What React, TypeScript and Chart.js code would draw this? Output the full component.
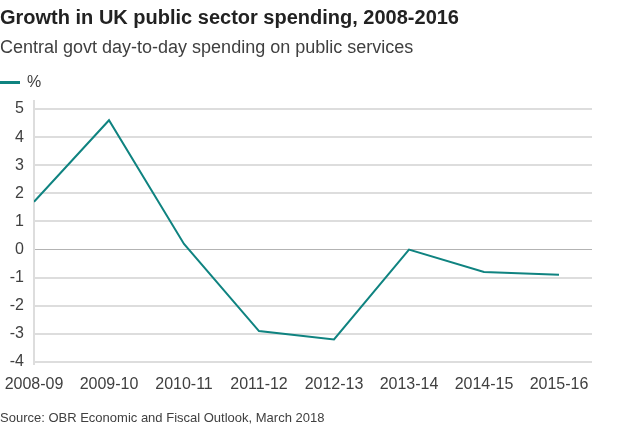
import React, { useEffect, useRef } from "react";
import { Chart, registerables } from "chart.js";

Chart.register(...registerables);

const categories = ["2008-09", "2009-10", "2010-11", "2011-12", "2012-13", "2013-14", "2014-15", "2015-16"];
const growth = [1.7, 4.6, 0.2, -2.9, -3.2, 0.0, -0.8, -0.9];
const yTicks = [5, 4, 3, 2, 1, 0, -1, -2, -3, -4];

const TEAL = "#0f8380";
const FONT = "'Liberation Sans', Arial, Helvetica, sans-serif";

const axisLinePlugin = {
  id: "axisLine",
  beforeDatasetsDraw(chart: any) {
    const { ctx, chartArea } = chart;
    ctx.save();
    ctx.strokeStyle = "#dddddd";
    ctx.lineWidth = 2;
    ctx.beginPath();
    ctx.moveTo(chartArea.left, chartArea.top - 9);
    ctx.lineTo(chartArea.left, chartArea.bottom + 3);
    ctx.stroke();
    ctx.restore();
  },
};

export default function App() {
  const ref = useRef<HTMLCanvasElement>(null);

  useEffect(() => {
    if (!ref.current) return;
    const chart = new Chart(ref.current, {
      type: "line",
      data: {
        datasets: [
          {
            label: "%",
            data: growth.map((v, i) => ({ x: i, y: v })),
            borderColor: TEAL,
            borderWidth: 2,
            pointRadius: 0,
            tension: 0,
            fill: false,
          },
        ],
      },
      plugins: [axisLinePlugin],
      options: {
        responsive: false,
        animation: false,
        layout: { padding: { top: 109, right: 32, bottom: 0, left: 0 } },
        plugins: { legend: { display: false }, tooltip: { enabled: false } },
        scales: {
          x: {
            type: "linear",
            min: 0,
            max: 7.44,
            grid: { display: false },
            border: { display: false },
            afterBuildTicks: (scale: any) => {
              scale.ticks = categories.map((_, i) => ({ value: i }));
            },
            afterFit: (scale: any) => {
              scale.height = 67;
              scale.paddingLeft = 0;
              scale.paddingRight = 0;
            },
            ticks: {
              autoSkip: false,
              maxRotation: 0,
              padding: 5,
              color: "#404040",
              font: { family: FONT, size: 16 },
              callback: (v: any) => categories[v as number] ?? "",
            },
          },
          y: {
            min: Math.min(...yTicks),
            max: Math.max(...yTicks),
            afterBuildTicks: (scale: any) => {
              scale.ticks = yTicks.map((v) => ({ value: v }));
            },
            afterFit: (scale: any) => {
              scale.width = 34;
              scale.paddingTop = 0;
              scale.paddingBottom = 0;
            },
            border: { display: false },
            grid: {
              drawTicks: false,
              color: (ctx: any) => (ctx.tick && ctx.tick.value === 0 ? "#b3b3b3" : "#dddddd"),
              lineWidth: (ctx: any) => (ctx.tick && ctx.tick.value === 0 ? 1 : 2),
            },
            ticks: {
              padding: 10,
              color: "#404040",
              font: { family: FONT, size: 16 },
            },
          },
        },
      },
    });
    return () => chart.destroy();
  }, []);

  return (
    <div style={{ position: "fixed", left: 0, top: 0, width: 624, height: 429, background: "#fff", fontFamily: FONT }}>
      <canvas ref={ref} width={624} height={429} style={{ position: "absolute", left: 0, top: 0 }} />
      <div style={{ position: "absolute", left: 0, top: 7, fontSize: 20, lineHeight: "20px", fontWeight: "bold", color: "#222222", whiteSpace: "nowrap" }}>
        Growth in UK public sector spending, 2008-2016
      </div>
      <div style={{ position: "absolute", left: 0, top: 38, fontSize: 18, lineHeight: "18px", color: "#404040", whiteSpace: "nowrap" }}>
        Central govt day-to-day spending on public services
      </div>
      <div style={{ position: "absolute", left: 0, top: 81, width: 20, height: 3, background: TEAL }} />
      <div style={{ position: "absolute", left: 27, top: 74, fontSize: 16, lineHeight: "16px", color: "#404040" }}>%</div>
      <div style={{ position: "absolute", left: 0, top: 411, fontSize: 13, lineHeight: "13px", color: "#404040", whiteSpace: "nowrap" }}>
        Source: OBR Economic and Fiscal Outlook, March 2018
      </div>
    </div>
  );
}
